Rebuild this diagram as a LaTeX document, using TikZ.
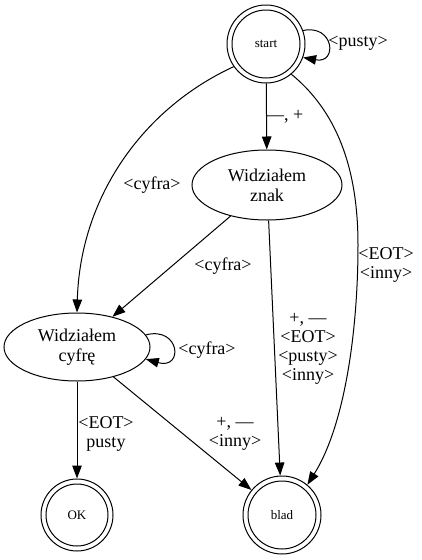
\documentclass[tikz,border=0pt]{standalone}
\usepackage{fontspec}
\setmainfont{Liberation Serif}
\usetikzlibrary{shapes.geometric,arrows.meta}
\begin{document}
\begin{tikzpicture}[x=1pt,y=-1pt,
  every node/.style={inner sep=0pt},
  st/.style={ellipse,draw,line width=1pt,minimum width=150pt,minimum height=70pt,font=\fontsize{18}{20}\selectfont,align=center},
  fin/.style={circle,draw,line width=1pt,font=\fontsize{13}{15}\selectfont},
  inner/.style={line width=1pt},
  lbl/.style={font=\fontsize{18}{19}\selectfont,align=center},
  edge/.style={draw,line width=1pt,-{Triangle[length=13pt,width=9.5pt]}}
]
\useasboundingbox (0,0) rectangle (422,560);
% states
\node[fin,minimum size=78pt] (start) at (266,44) {start};
\draw[inner] (start.center) circle[radius=34pt];
\node[st] (znak) at (267,185) {Widziałem\\znak};
\node[st,minimum width=146pt,minimum height=68pt] (cyfre) at (77,347) {Widziałem\\cyfrę};
\node[fin,minimum size=72pt] (ok) at (77,515) {OK};
\draw[inner] (ok.center) circle[radius=31pt];
\node[fin,minimum size=78pt] (blad) at (282,515) {blad};
\draw[inner] (blad.center) circle[radius=34pt];
% edges
\draw[edge] (start.20) .. controls (334,24) and (338,64) .. (start.-20);
\node[lbl] (lpusty) at (358,43) {<pusty>};
\draw[edge] (start) -- (znak);
\node[lbl,anchor=west] (lzn) at (266,117) {—, +};
\draw[edge] (start.215) .. controls (140,110) and (80,200) .. (cyfre.north);
\node[lbl] (lcy1) at (152,185) {<cyfra>};
\coordinate (mid) at (358,245);
\draw[edge] (start.-50) .. controls (335,110) and (358,165) .. (mid) .. controls (358,330) and (345,425) .. (blad.50);
\node[lbl] (lbl1) at (386,265) {<EOT>\\<inny>};
\draw[edge] (znak) -- (cyfre);
\node[lbl] (lcy2) at (223,266) {<cyfra>};
\draw[edge] (znak) -- (blad);
\node[lbl] (lbl2) at (308,349) {+, —\\<EOT>\\<pusty>\\<inny>};
\draw[edge] (cyfre.10) .. controls (180,326) and (184,370) .. (cyfre.-10);
\node[lbl] (lcy3) at (207,350) {<cyfra>};
\draw[edge] (cyfre) -- (ok);
\node[lbl] (lok) at (106,434) {<EOT>\\pusty};
\draw[edge] (cyfre) -- (blad);
\node[lbl] (lbl3) at (235,434) {+, —\\<inny>};
\end{tikzpicture}
\end{document}
